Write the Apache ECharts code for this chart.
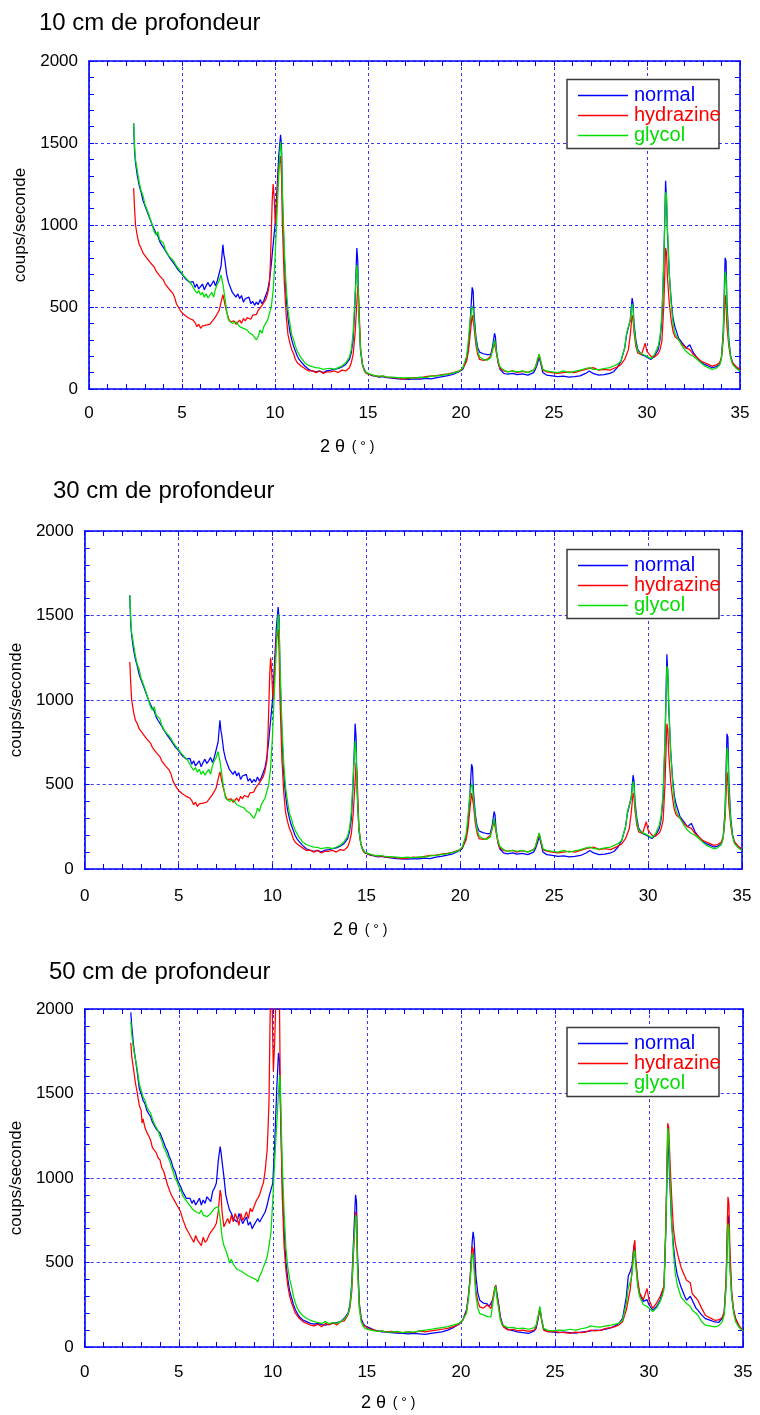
<!DOCTYPE html>
<html><head><meta charset="utf-8">
<script src="https://cdn.jsdelivr.net/npm/echarts@6/dist/echarts.min.js"></script>
<style>html,body{margin:0;padding:0;background:#fff}#c{width:760px;height:1415px}</style>
</head><body><div id="c"></div>
<script>
// ---------------- DATA ----------------
const seriesNames = ['normal', 'hydrazine', 'glycol'];
const panelTitles = ['10 cm de profondeur', '30 cm de profondeur', '50 cm de profondeur'];
const yAxisTitle = 'coups/seconde';
const xTickValues = [0, 5, 10, 15, 20, 25, 30, 35];
const yTickValues = [0, 500, 1000, 1500, 2000];

// 10 cm
const normal10 = [[2.4,1620],[2.45,1450],[2.5,1380],[2.6,1300],[2.7,1240],[2.8,1200],[2.9,1150],[3.0,1120],[3.1,1090],[3.2,1060],[3.3,1030],[3.4,1000],[3.5,975],[3.6,950],[3.7,935],[3.8,900],[3.9,880],[4.0,870],[4.1,845],[4.2,825],[4.3,815],[4.4,790],[4.5,780],[4.6,760],[4.7,750],[4.8,725],[4.9,715],[5.0,700],[5.1,690],[5.2,670],[5.3,665],[5.4,650],[5.5,645],[5.6,655],[5.7,620],[5.8,640],[5.9,610],[6.0,615],[6.1,640],[6.2,605],[6.3,630],[6.4,650],[6.5,625],[6.6,640],[6.7,660],[6.8,630],[6.9,660],[7.0,670],[7.1,750],[7.2,880],[7.25,820],[7.3,790],[7.4,700],[7.5,650],[7.6,620],[7.7,590],[7.8,600],[7.9,560],[8.0,580],[8.1,550],[8.2,570],[8.3,530],[8.4,550],[8.5,540],[8.6,560],[8.7,520],[8.8,535],[8.9,510],[9.0,530],[9.1,515],[9.2,545],[9.3,520],[9.4,540],[9.5,570],[9.6,600],[9.7,660],[9.8,760],[9.9,880],[10.0,1000],[10.1,1200],[10.2,1420],[10.3,1550],[10.35,1480],[10.4,1150],[10.5,800],[10.6,560],[10.7,430],[10.8,350],[10.9,300],[11.0,260],[11.1,230],[11.2,200],[11.3,180],[11.4,165],[11.5,155],[11.6,140],[11.7,130],[11.8,120],[11.9,115],[12.0,110],[12.2,105],[12.4,110],[12.6,100],[12.8,112],[13.0,115],[13.2,120],[13.4,125],[13.6,135],[13.8,150],[14.0,180],[14.1,220],[14.2,300],[14.3,520],[14.4,860],[14.45,780],[14.5,480],[14.6,230],[14.7,150],[14.8,120],[14.9,100],[15.0,90],[15.2,82],[15.4,78],[15.6,72],[15.8,75],[16.0,70],[16.3,66],[16.6,62],[16.9,60],[17.2,58],[17.5,62],[17.8,60],[18.1,65],[18.4,62],[18.7,70],[19.0,75],[19.3,82],[19.6,90],[19.9,105],[20.1,120],[20.3,180],[20.4,260],[20.5,420],[20.6,620],[20.65,600],[20.7,460],[20.8,320],[20.9,250],[21.0,225],[21.2,215],[21.4,210],[21.5,200],[21.6,210],[21.7,260],[21.8,340],[21.85,320],[21.9,240],[22.0,160],[22.1,120],[22.3,95],[22.5,90],[22.8,95],[23.0,88],[23.3,92],[23.6,85],[23.9,100],[24.0,120],[24.1,150],[24.2,195],[24.3,150],[24.4,100],[24.6,85],[24.9,80],[25.2,75],[25.5,78],[25.8,72],[26.1,75],[26.4,80],[26.7,95],[26.9,110],[27.1,95],[27.4,85],[27.7,88],[28.0,95],[28.2,105],[28.4,130],[28.6,170],[28.8,250],[28.9,330],[29.0,340],[29.1,420],[29.2,555],[29.25,520],[29.3,400],[29.4,300],[29.5,240],[29.7,210],[29.9,200],[30.0,190],[30.2,180],[30.4,200],[30.6,240],[30.7,300],[30.8,420],[30.9,750],[31.0,1270],[31.05,1150],[31.1,950],[31.2,700],[31.3,540],[31.4,430],[31.5,380],[31.7,310],[31.9,280],[32.1,250],[32.3,270],[32.5,220],[32.7,190],[32.9,165],[33.1,150],[33.3,140],[33.5,130],[33.7,135],[33.9,150],[34.0,190],[34.1,350],[34.2,800],[34.25,780],[34.3,520],[34.4,300],[34.5,200],[34.6,160],[34.8,130],[35.0,115]];
const hydrazine10 = [[2.4,1225],[2.45,1100],[2.5,1000],[2.6,930],[2.7,880],[2.8,860],[2.9,830],[3.0,825],[3.1,800],[3.2,790],[3.3,770],[3.4,760],[3.5,745],[3.6,720],[3.7,710],[3.8,690],[3.9,680],[4.0,665],[4.1,640],[4.2,630],[4.3,610],[4.4,600],[4.5,585],[4.6,560],[4.7,520],[4.8,500],[4.9,480],[5.0,465],[5.1,460],[5.2,445],[5.3,450],[5.4,430],[5.5,435],[5.6,420],[5.7,405],[5.8,380],[5.9,395],[6.0,370],[6.1,385],[6.2,375],[6.3,390],[6.4,380],[6.5,395],[6.6,410],[6.7,420],[6.8,440],[6.9,460],[7.0,480],[7.1,530],[7.2,575],[7.3,520],[7.4,470],[7.5,430],[7.6,410],[7.7,400],[7.8,415],[7.9,395],[8.0,405],[8.1,420],[8.2,400],[8.3,430],[8.4,415],[8.5,435],[8.6,440],[8.7,425],[8.8,450],[8.9,445],[9.0,455],[9.1,480],[9.2,470],[9.3,510],[9.4,520],[9.5,545],[9.6,580],[9.7,640],[9.75,760],[9.8,950],[9.85,1150],[9.9,1250],[9.95,1180],[10.0,1050],[10.05,1000],[10.1,1150],[10.2,1350],[10.3,1420],[10.35,1300],[10.4,1000],[10.5,650],[10.6,450],[10.7,330],[10.8,280],[10.9,240],[11.0,215],[11.1,180],[11.2,160],[11.3,150],[11.4,140],[11.5,135],[11.6,125],[11.8,110],[12.0,112],[12.2,100],[12.4,110],[12.6,95],[12.8,105],[13.0,105],[13.2,110],[13.4,100],[13.6,115],[13.8,110],[14.0,130],[14.1,160],[14.2,210],[14.3,330],[14.4,520],[14.45,630],[14.5,560],[14.55,400],[14.6,250],[14.7,150],[14.8,110],[14.9,95],[15.0,90],[15.2,85],[15.4,80],[15.6,75],[15.8,78],[16.0,72],[16.3,70],[16.6,68],[16.9,60],[17.2,65],[17.5,70],[17.8,68],[18.1,75],[18.4,80],[18.7,82],[19.0,88],[19.3,92],[19.6,100],[19.9,110],[20.1,125],[20.3,170],[20.4,230],[20.5,340],[20.6,450],[20.65,440],[20.7,380],[20.8,270],[20.9,210],[21.0,180],[21.2,175],[21.4,180],[21.5,185],[21.6,200],[21.7,240],[21.8,280],[21.85,270],[21.9,220],[22.0,160],[22.1,125],[22.3,110],[22.5,105],[22.8,110],[23.0,100],[23.3,108],[23.6,102],[23.9,115],[24.0,130],[24.1,170],[24.2,210],[24.3,160],[24.4,115],[24.6,105],[24.9,100],[25.2,95],[25.5,100],[25.8,105],[26.1,100],[26.4,110],[26.7,120],[26.9,125],[27.1,130],[27.4,115],[27.7,120],[28.0,115],[28.2,125],[28.4,135],[28.6,150],[28.8,180],[28.9,210],[29.0,240],[29.1,330],[29.2,450],[29.25,430],[29.3,350],[29.4,260],[29.5,220],[29.7,210],[29.85,260],[29.9,280],[30.0,230],[30.2,200],[30.4,195],[30.6,215],[30.7,240],[30.8,290],[30.9,500],[31.0,860],[31.05,830],[31.1,680],[31.2,520],[31.3,420],[31.4,350],[31.5,320],[31.7,300],[31.9,270],[32.1,250],[32.3,240],[32.5,210],[32.7,190],[32.9,170],[33.1,160],[33.3,150],[33.5,140],[33.7,145],[33.9,160],[34.0,190],[34.1,300],[34.2,575],[34.25,520],[34.3,380],[34.4,260],[34.5,190],[34.6,160],[34.8,135],[35.0,120]];
const glycol10 = [[2.4,1620],[2.45,1480],[2.5,1400],[2.6,1330],[2.7,1260],[2.8,1210],[2.9,1180],[3.0,1130],[3.1,1120],[3.2,1070],[3.3,1060],[3.4,1000],[3.5,960],[3.6,940],[3.7,960],[3.8,910],[3.9,900],[4.0,890],[4.1,850],[4.2,840],[4.3,810],[4.4,800],[4.5,787],[4.6,770],[4.7,750],[4.8,735],[4.9,720],[5.0,706],[5.1,690],[5.2,680],[5.3,665],[5.4,655],[5.5,640],[5.6,620],[5.7,600],[5.8,585],[5.9,600],[6.0,573],[6.1,590],[6.2,560],[6.3,580],[6.4,555],[6.5,563],[6.6,590],[6.7,560],[6.8,610],[6.9,640],[7.0,660],[7.1,695],[7.2,640],[7.3,560],[7.4,480],[7.5,420],[7.6,410],[7.7,400],[7.8,390],[7.9,410],[8.0,400],[8.1,380],[8.2,390],[8.3,370],[8.4,365],[8.5,360],[8.6,345],[8.7,350],[8.8,330],[8.9,340],[9.0,300],[9.1,320],[9.2,360],[9.3,340],[9.4,380],[9.5,400],[9.6,420],[9.7,460],[9.8,500],[9.9,600],[10.0,790],[10.1,1050],[10.2,1300],[10.3,1508],[10.35,1450],[10.4,1200],[10.5,850],[10.6,620],[10.7,480],[10.8,400],[10.9,330],[11.0,300],[11.1,260],[11.2,230],[11.3,210],[11.4,190],[11.5,177],[11.6,160],[11.7,150],[11.8,145],[11.9,140],[12.0,136],[12.2,130],[12.4,128],[12.6,120],[12.8,125],[13.0,126],[13.2,120],[13.4,130],[13.6,140],[13.8,160],[14.0,195],[14.1,240],[14.2,340],[14.3,560],[14.4,756],[14.45,700],[14.5,480],[14.6,240],[14.7,150],[14.8,115],[14.9,100],[15.0,95],[15.2,88],[15.4,80],[15.6,78],[15.8,80],[16.0,74],[16.3,72],[16.6,70],[16.9,68],[17.2,70],[17.5,66],[17.8,72],[18.1,70],[18.4,78],[18.7,80],[19.0,85],[19.3,90],[19.6,98],[19.9,108],[20.1,130],[20.3,200],[20.4,300],[20.5,430],[20.6,506],[20.65,490],[20.7,420],[20.8,300],[20.9,230],[21.0,195],[21.2,180],[21.4,175],[21.5,180],[21.6,190],[21.7,240],[21.8,300],[21.85,290],[21.9,230],[22.0,170],[22.1,135],[22.3,115],[22.5,105],[22.8,110],[23.0,105],[23.3,110],[23.6,100],[23.9,115],[24.0,135],[24.1,175],[24.2,213],[24.3,165],[24.4,120],[24.6,110],[24.9,105],[25.2,100],[25.5,110],[25.8,100],[26.1,108],[26.4,115],[26.7,125],[26.9,130],[27.1,120],[27.4,118],[27.7,125],[28.0,130],[28.2,140],[28.4,150],[28.6,170],[28.8,250],[28.9,340],[29.0,350],[29.1,420],[29.2,518],[29.25,490],[29.3,380],[29.4,280],[29.5,230],[29.7,215],[29.9,205],[30.0,195],[30.2,185],[30.4,210],[30.6,260],[30.7,320],[30.8,450],[30.9,780],[31.0,1200],[31.05,1180],[31.1,980],[31.2,700],[31.3,520],[31.4,400],[31.5,340],[31.7,300],[31.9,260],[32.1,230],[32.3,210],[32.5,200],[32.7,180],[32.9,160],[33.1,140],[33.3,130],[33.5,120],[33.7,125],[33.9,145],[34.0,180],[34.1,330],[34.2,715],[34.25,690],[34.3,480],[34.4,280],[34.5,190],[34.6,150],[34.8,125],[35.0,110]];

// 30 cm (the reference shows the same traces as at 10 cm)
const normal30 = normal10;
const hydrazine30 = hydrazine10;
const glycol30 = glycol10;

// 50 cm
const normal50 = [[2.45,1980],[2.5,1900],[2.6,1780],[2.7,1700],[2.8,1620],[2.9,1530],[3.0,1500],[3.1,1460],[3.2,1440],[3.3,1400],[3.4,1380],[3.5,1363],[3.6,1330],[3.7,1320],[3.8,1290],[3.9,1300],[4.0,1266],[4.1,1240],[4.2,1210],[4.3,1180],[4.4,1160],[4.5,1126],[4.6,1100],[4.7,1060],[4.8,1040],[4.9,1000],[5.0,970],[5.1,950],[5.2,920],[5.3,900],[5.4,880],[5.5,870],[5.6,880],[5.7,850],[5.8,870],[5.9,840],[6.0,851],[6.1,880],[6.2,840],[6.3,870],[6.4,850],[6.5,889],[6.6,880],[6.7,860],[6.8,920],[6.9,940],[7.0,970],[7.1,1100],[7.2,1186],[7.25,1150],[7.3,1100],[7.4,1008],[7.5,900],[7.6,851],[7.7,810],[7.8,790],[7.9,760],[8.0,771],[8.1,740],[8.2,790],[8.3,760],[8.4,730],[8.5,751],[8.6,770],[8.7,720],[8.8,740],[8.9,700],[9.0,721],[9.1,730],[9.2,760],[9.3,740],[9.4,760],[9.5,771],[9.6,800],[9.7,840],[9.8,889],[9.9,930],[10.0,970],[10.1,1200],[10.2,1500],[10.3,1740],[10.35,1700],[10.4,1450],[10.5,1000],[10.6,700],[10.7,500],[10.8,400],[10.9,330],[11.0,290],[11.1,250],[11.2,220],[11.3,200],[11.4,180],[11.5,170],[11.6,160],[11.8,150],[12.0,140],[12.2,135],[12.4,140],[12.6,132],[12.8,130],[13.0,135],[13.2,140],[13.4,145],[13.6,150],[13.8,170],[14.0,200],[14.1,250],[14.2,380],[14.3,650],[14.4,900],[14.45,860],[14.5,560],[14.6,260],[14.7,170],[14.8,140],[14.9,125],[15.0,119],[15.2,110],[15.4,100],[15.6,95],[15.8,90],[16.0,88],[16.3,85],[16.6,82],[16.9,80],[17.2,78],[17.5,80],[17.8,78],[18.1,75],[18.4,80],[18.7,85],[19.0,90],[19.3,100],[19.6,115],[19.9,135],[20.1,160],[20.3,220],[20.4,300],[20.5,420],[20.6,620],[20.65,682],[20.7,640],[20.8,420],[20.9,320],[21.0,277],[21.2,260],[21.4,255],[21.5,240],[21.6,230],[21.7,280],[21.8,340],[21.85,366],[21.9,330],[22.0,260],[22.1,180],[22.2,139],[22.3,120],[22.5,105],[22.8,95],[23.0,89],[23.3,85],[23.6,80],[23.9,95],[24.0,110],[24.1,160],[24.2,230],[24.3,160],[24.4,105],[24.6,92],[24.9,88],[25.2,85],[25.5,88],[25.8,85],[26.1,82],[26.4,88],[26.7,92],[26.9,95],[27.1,100],[27.4,98],[27.7,105],[28.0,115],[28.2,125],[28.4,140],[28.6,170],[28.8,300],[28.9,420],[29.0,445],[29.1,480],[29.2,600],[29.25,603],[29.3,500],[29.4,380],[29.5,316],[29.7,270],[29.9,280],[30.0,250],[30.2,218],[30.4,240],[30.6,280],[30.7,320],[30.8,360],[30.9,700],[31.0,1230],[31.05,1150],[31.1,1000],[31.2,750],[31.3,600],[31.4,494],[31.5,430],[31.7,356],[31.9,300],[32.0,277],[32.2,300],[32.3,290],[32.5,230],[32.6,218],[32.8,190],[33.0,168],[33.2,160],[33.5,148],[33.7,145],[33.9,170],[34.0,198],[34.1,376],[34.2,780],[34.25,760],[34.3,500],[34.4,300],[34.5,218],[34.6,170],[34.8,119],[35.0,95]];
const hydrazine50 = [[2.45,1800],[2.5,1720],[2.6,1640],[2.7,1560],[2.8,1500],[2.9,1430],[3.0,1400],[3.05,1325],[3.1,1350],[3.2,1300],[3.3,1270],[3.4,1250],[3.5,1225],[3.6,1180],[3.7,1190],[3.8,1150],[3.9,1120],[4.0,1107],[4.1,1060],[4.2,1040],[4.3,1000],[4.4,960],[4.5,929],[4.6,900],[4.7,880],[4.8,860],[4.9,840],[5.0,830],[5.1,800],[5.2,760],[5.3,730],[5.4,700],[5.5,682],[5.6,660],[5.7,650],[5.8,620],[5.9,660],[6.0,632],[6.1,640],[6.2,600],[6.3,650],[6.4,620],[6.5,632],[6.6,660],[6.7,680],[6.8,670],[6.9,710],[7.0,732],[7.1,800],[7.2,929],[7.25,900],[7.3,800],[7.4,711],[7.5,700],[7.6,760],[7.7,730],[7.8,780],[7.9,740],[8.0,790],[8.1,760],[8.2,720],[8.3,790],[8.4,750],[8.5,771],[8.6,800],[8.7,760],[8.8,820],[8.9,800],[9.0,830],[9.1,860],[9.2,880],[9.3,900],[9.4,940],[9.5,970],[9.6,1050],[9.7,1166],[9.75,1300],[9.8,1462],[9.85,1900],[9.9,2200],[9.95,2150],[10.0,1800],[10.03,1630],[10.1,1800],[10.2,2200],[10.3,2250],[10.35,2100],[10.4,1500],[10.5,900],[10.6,600],[10.7,450],[10.8,360],[10.9,300],[11.0,260],[11.1,230],[11.2,200],[11.3,185],[11.4,170],[11.5,160],[11.6,150],[11.8,140],[12.0,130],[12.2,125],[12.4,135],[12.6,120],[12.8,140],[13.0,130],[13.2,145],[13.4,130],[13.6,150],[13.8,155],[14.0,190],[14.1,230],[14.2,330],[14.3,580],[14.4,800],[14.45,780],[14.5,500],[14.6,240],[14.7,160],[14.8,130],[14.9,120],[15.0,115],[15.2,105],[15.4,100],[15.6,92],[15.8,95],[16.0,90],[16.3,92],[16.6,88],[16.9,85],[17.2,90],[17.5,85],[17.8,95],[18.1,90],[18.4,95],[18.7,100],[19.0,105],[19.3,110],[19.6,120],[19.9,135],[20.1,160],[20.3,210],[20.4,300],[20.5,420],[20.6,593],[20.65,580],[20.7,500],[20.8,330],[20.9,270],[21.0,237],[21.2,230],[21.4,250],[21.5,240],[21.6,227],[21.7,290],[21.8,350],[21.85,366],[21.9,320],[22.0,250],[22.1,170],[22.2,130],[22.3,115],[22.5,100],[22.8,105],[23.0,95],[23.3,100],[23.6,92],[23.9,100],[24.0,120],[24.1,170],[24.2,225],[24.3,150],[24.4,100],[24.6,90],[24.9,92],[25.2,88],[25.5,85],[25.8,80],[26.1,88],[26.4,85],[26.7,90],[26.9,100],[27.1,95],[27.4,98],[27.7,110],[28.0,115],[28.2,120],[28.4,130],[28.6,150],[28.8,220],[28.9,280],[29.0,336],[29.1,450],[29.2,600],[29.25,632],[29.3,520],[29.4,400],[29.5,320],[29.7,280],[29.85,330],[29.9,346],[30.0,280],[30.2,230],[30.4,260],[30.6,300],[30.7,330],[30.8,360],[30.9,750],[31.0,1324],[31.05,1300],[31.1,1150],[31.2,900],[31.3,700],[31.4,614],[31.5,560],[31.7,474],[31.9,420],[32.0,395],[32.2,380],[32.3,316],[32.5,290],[32.6,277],[32.8,230],[33.0,188],[33.2,175],[33.5,158],[33.7,160],[33.9,175],[34.0,210],[34.1,400],[34.2,889],[34.25,850],[34.3,600],[34.4,330],[34.5,220],[34.6,170],[34.8,125],[35.0,100]];
const glycol50 = [[2.45,1927],[2.5,1850],[2.6,1760],[2.7,1700],[2.8,1640],[2.9,1560],[3.0,1520],[3.1,1480],[3.2,1460],[3.3,1420],[3.4,1400],[3.5,1385],[3.6,1350],[3.7,1320],[3.8,1300],[3.9,1280],[4.0,1245],[4.1,1220],[4.2,1180],[4.3,1160],[4.4,1130],[4.5,1107],[4.6,1070],[4.7,1040],[4.8,1000],[4.9,980],[5.0,948],[5.1,930],[5.2,900],[5.3,880],[5.4,870],[5.5,851],[5.6,840],[5.7,820],[5.8,830],[5.9,800],[6.0,810],[6.1,790],[6.2,810],[6.3,780],[6.4,790],[6.5,771],[6.6,780],[6.7,790],[6.8,800],[6.9,820],[7.0,810],[7.1,830],[7.2,760],[7.3,652],[7.4,600],[7.5,573],[7.6,540],[7.7,496],[7.8,520],[7.9,490],[8.0,474],[8.1,460],[8.2,470],[8.3,450],[8.4,455],[8.5,435],[8.6,440],[8.7,420],[8.8,430],[8.9,410],[9.0,407],[9.1,400],[9.2,386],[9.3,420],[9.4,440],[9.5,474],[9.6,500],[9.7,534],[9.8,600],[9.9,673],[10.0,870],[10.1,1100],[10.2,1300],[10.3,1500],[10.37,1610],[10.4,1550],[10.5,1100],[10.6,800],[10.7,580],[10.8,470],[10.9,400],[11.0,356],[11.1,300],[11.2,260],[11.3,230],[11.4,210],[11.5,198],[11.6,185],[11.8,170],[12.0,158],[12.2,150],[12.4,145],[12.6,140],[12.8,150],[13.0,138],[13.2,145],[13.4,140],[13.6,150],[13.8,165],[14.0,195],[14.1,240],[14.2,360],[14.3,600],[14.4,780],[14.45,760],[14.5,480],[14.6,230],[14.7,150],[14.8,125],[14.9,110],[15.0,105],[15.2,100],[15.4,95],[15.6,92],[15.8,95],[16.0,90],[16.3,88],[16.6,92],[16.9,85],[17.2,90],[17.5,88],[17.8,95],[18.1,100],[18.4,105],[18.7,110],[19.0,115],[19.3,120],[19.6,130],[19.9,140],[20.1,160],[20.3,200],[20.4,280],[20.5,400],[20.6,554],[20.65,540],[20.7,460],[20.8,300],[20.9,230],[21.0,198],[21.2,190],[21.4,180],[21.5,175],[21.6,178],[21.7,260],[21.8,340],[21.85,360],[21.9,300],[22.0,230],[22.1,160],[22.2,130],[22.3,120],[22.5,115],[22.8,115],[23.0,109],[23.3,112],[23.6,105],[23.9,115],[24.0,130],[24.1,180],[24.2,240],[24.3,160],[24.4,110],[24.6,100],[24.9,95],[25.2,100],[25.5,98],[25.8,105],[26.1,100],[26.4,108],[26.7,115],[26.9,125],[27.1,120],[27.4,118],[27.7,125],[28.0,130],[28.2,135],[28.4,140],[28.6,160],[28.8,260],[28.9,350],[29.0,385],[29.1,430],[29.2,560],[29.25,573],[29.3,480],[29.4,360],[29.5,300],[29.7,250],[29.9,240],[30.0,230],[30.2,210],[30.4,230],[30.6,270],[30.7,300],[30.8,340],[30.9,700],[31.0,1295],[31.05,1250],[31.1,1050],[31.2,750],[31.3,560],[31.4,435],[31.5,370],[31.7,297],[31.9,270],[32.0,257],[32.2,240],[32.3,218],[32.5,200],[32.6,188],[32.8,150],[33.0,129],[33.2,125],[33.5,119],[33.7,125],[33.9,150],[34.0,190],[34.1,350],[34.2,731],[34.25,700],[34.3,480],[34.4,300],[34.5,200],[34.6,150],[34.8,115],[35.0,95]];

const panelData = [
  [normal10, hydrazine10, glycol10],
  [normal30, hydrazine30, glycol30],
  [normal50, hydrazine50, glycol50]
];

// ---------------- STYLE / LAYOUT ----------------
const FONT = '"Liberation Sans", Arial, Helvetica, sans-serif';
const seriesColors = ['#0000ff', '#ff0000', '#00dd00'];
const AXIS_BLUE = '#0000ff';
const GRID_BLUE = '#3a3aff';
const grids = [
  {left: 89, top: 61, width: 651, height: 328},
  {left: 81, top: 531, width: 661, height: 338},
  {left: 80, top: 1009, width: 663, height: 338}
];
const titlePos = [{left: 39, top: 11}, {left: 53, top: 479}, {left: 49, top: 960}];
const xLabelMargin = [16, 19, 17];
const yNameGap = [57, 54, 56];
const xNamePos = [{x: 320, y: 447}, {x: 333, y: 930}, {x: 361, y: 1403}];

const xAxes = [], yAxes = [], series = [], legends = [], titles = [], graphics = [];

grids.forEach((g, i) => {
  const tickCommon = {inside: true, length: 5, lineStyle: {color: AXIS_BLUE, width: 1}};
  const minorCommon = {show: true, length: 5, lineStyle: {color: AXIS_BLUE, width: 1}};
  const lineCommon = {show: true, onZero: false, lineStyle: {color: AXIS_BLUE, width: 1.6}};
  const split = {show: true, lineStyle: {color: GRID_BLUE, width: 1, type: [3, 3]}};
  xAxes.push({
    type: 'value', gridIndex: i, position: 'bottom',
    min: xTickValues[0], max: xTickValues[xTickValues.length - 1], interval: 5,
    axisLine: lineCommon, axisTick: tickCommon, minorTick: Object.assign({splitNumber: 5}, minorCommon),
    splitLine: split,
    axisLabel: {color: '#000', fontSize: 17, fontFamily: FONT, margin: xLabelMargin[i], formatter: v => String(v)}
  });
  xAxes.push({
    type: 'value', gridIndex: i, position: 'top',
    min: xTickValues[0], max: xTickValues[xTickValues.length - 1], interval: 5,
    axisLine: lineCommon, axisTick: tickCommon, minorTick: Object.assign({splitNumber: 5}, minorCommon),
    splitLine: {show: false}, axisLabel: {show: false}
  });
  yAxes.push({
    type: 'value', gridIndex: i, position: 'left',
    min: yTickValues[0], max: yTickValues[yTickValues.length - 1], interval: 500,
    axisLine: lineCommon, axisTick: tickCommon, minorTick: Object.assign({splitNumber: 5}, minorCommon),
    splitLine: split,
    axisLabel: {color: '#000', fontSize: 17, fontFamily: FONT, margin: 11, padding: [6, 0, 0, 0], formatter: v => String(v)},
    name: yAxisTitle, nameLocation: 'middle', nameRotate: 90, nameGap: yNameGap[i],
    nameTextStyle: {color: '#000', fontSize: 17, fontFamily: FONT}
  });
  yAxes.push({
    type: 'value', gridIndex: i, position: 'right',
    min: yTickValues[0], max: yTickValues[yTickValues.length - 1], interval: 500,
    axisLine: lineCommon, axisTick: tickCommon, minorTick: Object.assign({splitNumber: 5}, minorCommon),
    splitLine: {show: false}, axisLabel: {show: false}
  });
  panelData[i].forEach((d, s) => {
    series.push({
      type: 'line', name: seriesNames[s], xAxisIndex: 2 * i, yAxisIndex: 2 * i,
      data: d, symbol: 'none', showSymbol: false, clip: true,
      color: seriesColors[s],
      lineStyle: {color: seriesColors[s], width: 1.25},
      itemStyle: {color: seriesColors[s]},
      animation: false, z: 2
    });
  });
  legends.push({
    orient: 'vertical', left: 578, top: g.top + 24.5, padding: 0, z: 8,
    itemWidth: 50, itemHeight: 1.6, itemGap: 0, icon: 'rect',
    selectedMode: false,
    textStyle: {fontSize: 20, lineHeight: 19.5, fontFamily: FONT, padding: [0, 0, 0, 1]},
    data: seriesNames.map((n, s) => ({name: n, textStyle: {color: seriesColors[s], fontSize: 20, fontFamily: FONT}}))
  });
  titles.push({
    text: panelTitles[i], left: titlePos[i].left, top: titlePos[i].top, padding: 0,
    textStyle: {fontSize: 24, fontWeight: 'normal', color: '#000', fontFamily: FONT}
  });
  graphics.push({
    type: 'rect', z: 5,
    shape: {x: 567, y: g.top + 18.5, width: 152, height: 69},
    style: {fill: '#ffffff', stroke: '#3a3a3a', lineWidth: 1.5}
  });
  graphics.push({
    type: 'text', z: 5, x: xNamePos[i].x, y: xNamePos[i].y,
    style: {
      text: '{a|2 θ}  {b|( ° )}', verticalAlign: 'middle', align: 'left',
      rich: {
        a: {fontSize: 18, fontFamily: FONT, fill: '#000', color: '#000'},
        b: {fontSize: 14, fontFamily: FONT, fill: '#000', color: '#000'}
      }
    }
  });
});

const chart = echarts.init(document.getElementById('c'), null, {renderer: 'canvas'});
chart.setOption({
  animation: false,
  backgroundColor: '#ffffff',
  title: titles,
  grid: grids,
  xAxis: xAxes,
  yAxis: yAxes,
  legend: legends,
  series: series,
  graphic: graphics
});
</script>
</body></html>
